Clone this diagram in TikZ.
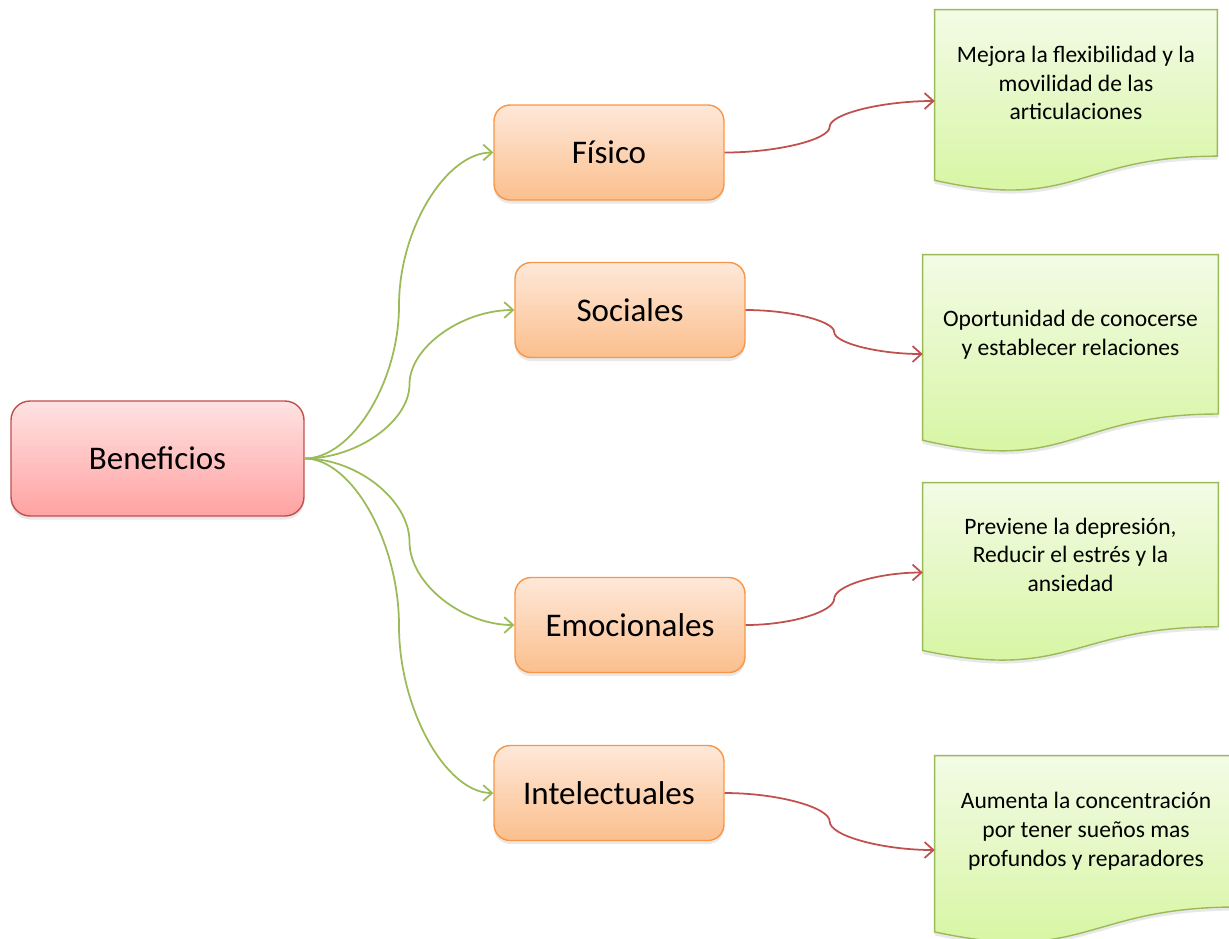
\documentclass[tikz,border=0pt]{standalone}
\usepackage{fontspec}
\setmainfont{Carlito}
\usetikzlibrary{arrows.meta,calc,backgrounds,shadows}

\definecolor{rojoborde}{HTML}{C0504D}
\definecolor{rosaarriba}{HTML}{FFE2E2}
\definecolor{rosaabajo}{HTML}{FFA2A2}
\definecolor{naranjaborde}{HTML}{F79646}
\definecolor{naranjaarriba}{HTML}{FEE8D9}
\definecolor{naranjaabajo}{HTML}{FBBF8D}
\definecolor{verdeborde}{HTML}{9BBB59}
\definecolor{verdearriba}{HTML}{F3FBE6}
\definecolor{verdeabajo}{HTML}{D4F59C}

\tikzset{
  sombra/.style={drop shadow={opacity=0.18,shadow xshift=0pt,shadow yshift=-2pt}},
  raiz/.style={rectangle,rounded corners=0.38cm,draw=rojoborde,line width=0.8pt,
    top color=rosaarriba,bottom color=rosaabajo,sombra,
    minimum width=5.86cm,minimum height=2.3cm,font=\fontsize{18.8}{22}\selectfont},
  hijo/.style={rectangle,rounded corners=0.32cm,draw=naranjaborde,line width=0.8pt,
    top color=naranjaarriba,bottom color=naranjaabajo,sombra,
    minimum width=4.6cm,minimum height=1.9cm,font=\fontsize{18.8}{22}\selectfont},
  hoja/.style n args={2}{rectangle,inner sep=0pt,minimum width=#1cm,minimum height=#2cm},
  hojaforma/.style={draw=verdeborde,line width=0.8pt,top color=verdearriba,
    bottom color=verdeabajo,sombra},
  doctexto/.style={align=center,font=\fontsize{13.4}{16.4}\selectfont},
  rama/.style={draw=verdeborde,line width=1pt,-{Straight Barb[length=5pt,width=9pt]}},
  flecha/.style={draw=rojoborde,line width=1pt,-{Straight Barb[length=5pt,width=9pt]}},
  % curva en dos tramos con tangente vertical en el medio
  curva/.style={to path={let \p1=(\tikztostart), \p2=(\tikztotarget) in
    .. controls ({0.75*\x1+0.25*\x2},\y1) and ({0.5*\x1+0.5*\x2},{0.75*\y1+0.25*\y2})
    .. ({0.5*\x1+0.5*\x2},{0.5*\y1+0.5*\y2})
    .. controls ({0.5*\x1+0.5*\x2},{0.25*\y1+0.75*\y2}) and ({0.25*\x1+0.75*\x2},\y2)
    .. (\tikztotarget) \tikztonodes}}
}

\begin{document}
\begin{tikzpicture}[x=0.02cm,y=-0.02cm]
  \useasboundingbox (0,0) rectangle (1229,938);

  \node[raiz] (ben) at (157.5,458.5) {Beneficios};
  \foreach \nm/\x/\y/\txt in {fis/609/152.5/Físico,soc/630/310/Sociales,
      emo/630/625/Emocionales,int/609/793/Intelectuales}{
    \node[hijo] (\nm) at (\x,\y) {\txt};
  }

  % hojas (forma de documento)
  \foreach \nm/\x/\y/\w/\h in {d1/1076/101/5.64/3.64,d2/1070.5/354/5.9/3.96,
      d3/1070.5/572.5/5.9/3.58,d4/1086/850/6.04/3.76}{
    \node[hoja={\w}{\h}] (\nm) at (\x,\y) {};
  }
  \begin{scope}[on background layer]
    \foreach \nm in {d1,d2,d3,d4}{
      \path[hojaforma] (\nm.north west) -- (\nm.north east)
        -- ($(\nm.north east)!0.802!(\nm.south east)$)
        .. controls ($(\nm.north)!0.802!(\nm.south)$) and ($(\nm.north)!1.1075!(\nm.south)$)
        .. ($(\nm.north west)!0.934!(\nm.south west)$) -- cycle;
    }
  \end{scope}

  \node[doctexto] (t1) at ($(d1.north)!0.401!(d1.south)$)
    {Mejora la flexibilidad y la\\movilidad de las\\articulaciones};
  \node[doctexto] (t2) at ($(d2.north)!0.401!(d2.south)$)
    {Oportunidad de conocerse\\y establecer relaciones};
  \node[doctexto] (t3) at ($(d3.north)!0.401!(d3.south)$)
    {Previene la depresión,\\Reducir el estrés y la\\ansiedad};
  \node[doctexto] (t4) at ($(d4.north)!0.401!(d4.south)$)
    {Aumenta la concentración\\por tener sueños mas\\profundos y reparadores};

  \foreach \nm in {fis,soc,emo,int}
    \draw[rama] (ben.east) to[curva] (\nm.west);
  \foreach \a/\b in {fis/d1,soc/d2,emo/d3,int/d4}
    \draw[flecha] (\a.east) to[curva] (\b.west);
\end{tikzpicture}
\end{document}
